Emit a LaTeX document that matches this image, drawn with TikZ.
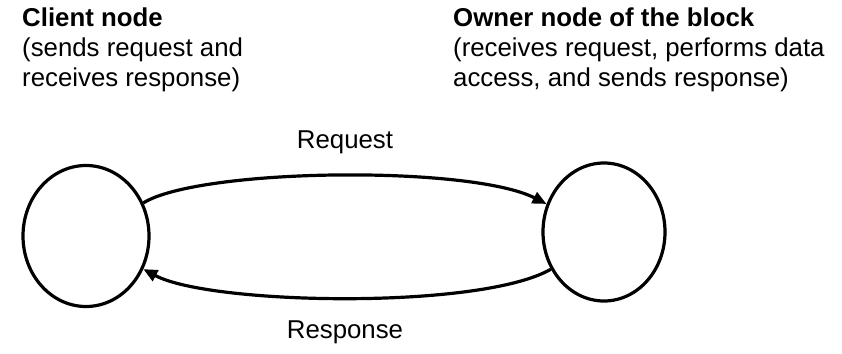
\documentclass[tikz,border=0pt]{standalone}
\usepackage{fontspec}
\setmainfont{Liberation Sans}
\usetikzlibrary{shapes.geometric,arrows.meta}
\begin{document}
\begin{tikzpicture}[x=1pt,y=1pt,
  lbl/.style={inner sep=0pt, align=left, anchor=north west,
    font=\fontsize{25.8}{30}\selectfont},
  edgelbl/.style={inner sep=0pt, anchor=base, font=\fontsize{25.8}{30}\selectfont},
  site/.style={draw, ellipse, line width=3.2pt, inner sep=0pt},
  msg/.style={line width=3.2pt, -{Triangle[length=14pt,width=12pt]}}]
  \useasboundingbox (0,0) rectangle (842,-353);

  % captions of the two nodes
  \node[lbl] (clienttxt) at (22,-8) {\textbf{Client node}\\(sends request and\\receives response)};
  \node[lbl] (ownertxt) at (453,-8) {\textbf{Owner node of the block}\\(receives request, performs data\\access, and sends response)};

  % the two nodes
  \node[site, minimum width=126pt, minimum height=141pt] (client) at (86,-236) {};
  \node[site, minimum width=122pt, minimum height=138pt] (owner) at (604,-232) {};

  % messages between them
  \draw[msg] (client.30) .. controls (200,-168) and (470,-165) .. (owner.154);
  \draw[msg] (owner.215) .. controls (480,-310) and (210,-305) .. (client.330);

  \node[edgelbl] (req) at (345,-148) {Request};
  \node[edgelbl] (resp) at (345,-338) {Response};
\end{tikzpicture}
\end{document}
